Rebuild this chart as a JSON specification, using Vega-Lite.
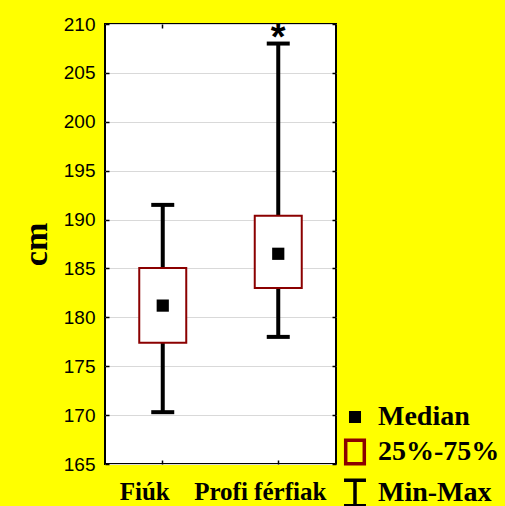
{
  "$schema": "https://vega.github.io/schema/vega-lite/v6.json",
  "autosize": {"type": "none"},
  "padding": {"left": 105, "top": 24, "right": 169, "bottom": 42},
  "width": 231,
  "height": 440,
  "background": "#ffff00",
  "config": {
    "view": {"fill": "white", "stroke": "black", "strokeWidth": 2},
    "axis": {"tickColor": "black", "tickWidth": 1.5, "tickSize": -4, "domain": false, "labelColor": "black", "titleColor": "black"}
  },
  "datasets": {
    "stats": [
      {"group": "Fiúk", "min": 170.3, "q1": 177.4, "median": 181.2, "q3": 185.05, "max": 191.5},
      {"group": "Profi férfiak", "min": 178.0, "q1": 183.0, "median": 186.5, "q3": 190.4, "max": 208.0}
    ],
    "notes": [
      {"group": "Profi férfiak", "value": 208.0, "label": "*"}
    ]
  },
  "data": {"name": "stats"},
  "layer": [
    {
      "mark": {"type": "rule", "strokeWidth": 4, "color": "black"},
      "encoding": {
        "x": {"field": "group", "type": "nominal", "sort": ["Fiúk", "Profi férfiak"],
              "scale": {"type": "band", "paddingInner": 0, "paddingOuter": 0},
              "axis": {"orient": "bottom", "title": null, "labelAngle": 0, "labelFont": "Liberation Serif", "labelFontWeight": "bold", "labelFontSize": 25, "labelOffset": -18, "labelPadding": 19, "grid": false}},
        "y": {"field": "min", "type": "quantitative",
              "scale": {"domain": [165, 210], "nice": false, "zero": false},
              "axis": {"orient": "left", "title": "cm", "values": [165,170,175,180,185,190,195,200,205,210], "labelFont": "Liberation Sans", "labelFontSize": 19, "labelPadding": 14, "grid": true, "gridColor": "#d9d9d9", "gridWidth": 1, "titleFont": "Liberation Serif", "titleFontWeight": "bold", "titleFontSize": 34, "titlePadding": 10}},
        "y2": {"field": "max"}
      }
    },
    {
      "mark": {"type": "bar", "width": 47, "fill": "white", "stroke": "#8b0000", "strokeWidth": 2},
      "encoding": {
        "x": {"field": "group", "type": "nominal", "sort": ["Fiúk", "Profi férfiak"], "axis": null},
        "y": {"field": "q1", "type": "quantitative", "axis": null},
        "y2": {"field": "q3"}
      }
    },
    {
      "mark": {"type": "tick", "orient": "horizontal", "size": 23, "thickness": 4, "color": "black", "opacity": 1},
      "encoding": {
        "x": {"field": "group", "type": "nominal", "sort": ["Fiúk", "Profi férfiak"],
              "axis": {"orient": "top", "title": null, "labels": false, "grid": false}},
        "y": {"field": "min", "type": "quantitative",
              "axis": {"orient": "right", "title": null, "labels": false, "grid": false, "values": [165,170,175,180,185,190,195,200,205,210]}}
      }
    },
    {
      "mark": {"type": "tick", "orient": "horizontal", "size": 23, "thickness": 4, "color": "black", "opacity": 1},
      "encoding": {
        "x": {"field": "group", "type": "nominal", "sort": ["Fiúk", "Profi férfiak"], "axis": null},
        "y": {"field": "max", "type": "quantitative", "axis": null}
      }
    },
    {
      "mark": {"type": "point", "filled": true, "opacity": 1, "size": 1900, "strokeWidth": 0},
      "encoding": {
        "x": {"field": "group", "type": "nominal", "sort": ["Fiúk", "Profi férfiak"], "axis": null},
        "y": {"field": "median", "type": "quantitative", "axis": null},
        "shape": {"datum": "Median", "type": "nominal",
                  "scale": {"domain": ["Median", "25%-75%", "Min-Max"],
                            "range": ["M-0.28,-0.28H0.28V0.28H-0.28Z", "M-0.61,-0.77H0.61V0.77H-0.61Z", "M-0.72,-0.84H0.72M0,-0.84V0.84M-0.72,0.84H0.72"]},
                  "legend": {"title": null, "orient": "none", "legendX": 233, "legendY": 376, "padding": 0,
                             "symbolSize": 930, "symbolStrokeWidth": 3.5, "rowPadding": 2, "labelOffset": 6,
                             "labelFont": "Liberation Serif", "labelFontWeight": "bold", "labelFontSize": 28, "labelColor": "black",
                             "encode": {"symbols": {"update": {"opacity": {"value": 1}}}}}},
        "fill": {"datum": "Median", "type": "nominal",
                 "scale": {"domain": ["Median", "25%-75%", "Min-Max"], "range": ["black", "#ffff00", "transparent"]},
                 "legend": {"title": null}},
        "stroke": {"datum": "Median", "type": "nominal",
                   "scale": {"domain": ["Median", "25%-75%", "Min-Max"], "range": ["black", "#8b0000", "black"]},
                   "legend": {"title": null}}
      }
    },
    {
      "data": {"name": "notes"},
      "mark": {"type": "text", "font": "Liberation Sans", "fontWeight": "bold", "fontSize": 38, "baseline": "alphabetic", "dy": 6, "color": "black"},
      "encoding": {
        "x": {"field": "group", "type": "nominal", "sort": ["Fiúk", "Profi férfiak"], "axis": null},
        "y": {"field": "value", "type": "quantitative", "axis": null},
        "text": {"field": "label"}
      }
    }
  ],
  "resolve": {"axis": {"x": "independent", "y": "independent"}}
}
